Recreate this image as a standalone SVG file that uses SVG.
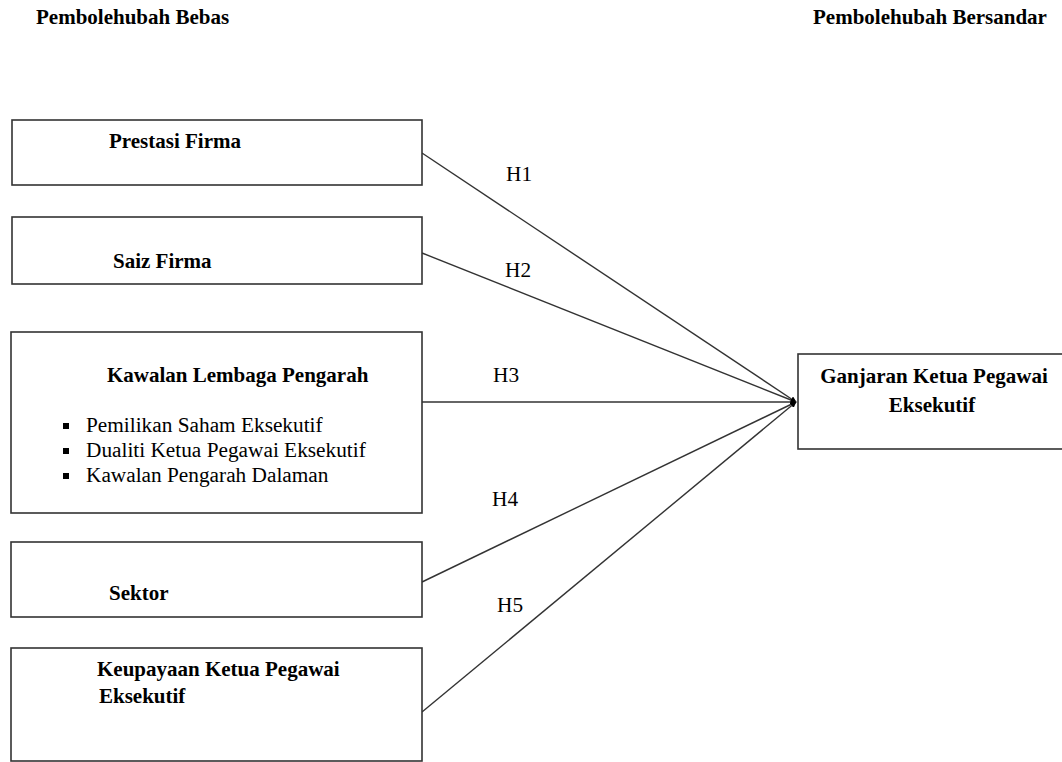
<svg xmlns="http://www.w3.org/2000/svg" width="1062" height="762" viewBox="0 0 1062 762">
<defs>
<style>
.box{fill:#fff;stroke:#333;stroke-width:1.6}
.b{font-family:"Liberation Serif","Times New Roman",serif;font-weight:bold;font-size:21px;fill:#000}
.r{font-family:"Liberation Serif","Times New Roman",serif;font-size:21.3px;fill:#000}
.ln{stroke:#333;stroke-width:1.4;fill:none;marker-end:url(#ah)}
</style>
<marker id="ah" viewBox="0 0 10 10" refX="9" refY="5" markerWidth="6" markerHeight="6" markerUnits="userSpaceOnUse" orient="auto">
<path d="M0,0 L10,5 L0,10 z" fill="#000"/>
</marker>
</defs>
<rect width="1062" height="762" fill="#fff"/>
<text class="b" x="36" y="24">Pembolehubah Bebas</text>
<text class="b" x="813" y="24">Pembolehubah Bersandar</text>
<g id="connectors">
<line class="ln" x1="422" y1="153" x2="796" y2="402"/>
<line class="ln" x1="422" y1="253" x2="796" y2="402"/>
<line class="ln" x1="422" y1="402" x2="796" y2="402"/>
<line class="ln" x1="422" y1="582" x2="796" y2="402"/>
<line class="ln" x1="422" y1="712" x2="796" y2="402"/>
<text class="r" x="506" y="181">H1</text>
<text class="r" x="505" y="277">H2</text>
<text class="r" x="493" y="382">H3</text>
<text class="r" x="492" y="506">H4</text>
<text class="r" x="497" y="612">H5</text>
</g>
<g id="n1">
<rect class="box" x="12" y="120" width="410" height="65"/>
<text class="b" x="109" y="148">Prestasi  Firma</text>
</g>
<g id="n2">
<rect class="box" x="12" y="217" width="410" height="67"/>
<text class="b" x="113" y="268">Saiz Firma</text>
</g>
<g id="n3">
<rect class="box" x="11" y="332" width="411" height="181"/>
<text class="b" x="107" y="382">Kawalan Lembaga Pengarah</text>
<rect x="63" y="423" width="6" height="6" fill="#000"/>
<rect x="63" y="448" width="6" height="6" fill="#000"/>
<rect x="63" y="473" width="6" height="6" fill="#000"/>
<text class="r" x="86" y="432">Pemilikan Saham Eksekutif</text>
<text class="r" x="86" y="457">Dualiti Ketua Pegawai Eksekutif</text>
<text class="r" x="86" y="482">Kawalan Pengarah Dalaman</text>
</g>
<g id="n4">
<rect class="box" x="11" y="542" width="411" height="75"/>
<text class="b" x="109" y="600">Sektor</text>
</g>
<g id="n5">
<rect class="box" x="11" y="648" width="411" height="113"/>
<text class="b" x="97" y="676">Keupayaan Ketua Pegawai</text>
<text class="b" x="99" y="703">Eksekutif</text>
</g>
<g id="n6">
<rect class="box" x="798" y="354" width="270" height="95"/>
<text class="b" x="934" y="383" text-anchor="middle">Ganjaran Ketua Pegawai</text>
<text class="b" x="932" y="412" text-anchor="middle">Eksekutif</text>
</g>
</svg>
